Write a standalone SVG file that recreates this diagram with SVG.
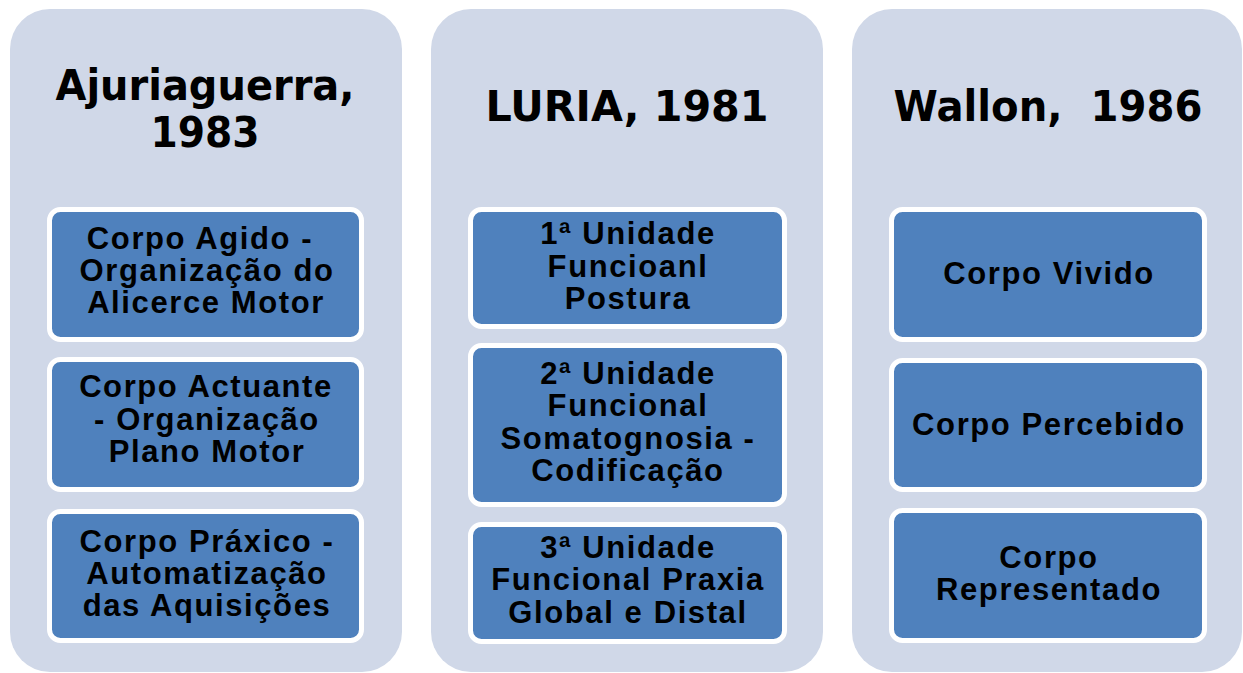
<svg xmlns="http://www.w3.org/2000/svg" width="1243" height="673" viewBox="0 0 1243 673">
<style>
.col{fill:#D0D8E8}
.box{fill:#4F81BD;stroke:#FFFFFF;stroke-width:5}
.title{font-family:"DejaVu Sans",Verdana,sans-serif;font-weight:bold;font-size:43px;fill:#000;text-anchor:middle}
.lbl{font-family:"Liberation Sans",Arial,sans-serif;font-weight:bold;font-size:31px;letter-spacing:1.6px;fill:#000;text-anchor:middle}
</style>
<rect width="1243" height="673" fill="#FFFFFF"/>
<g id="col-ajuriaguerra">
<rect class="col" x="10" y="9" width="392" height="663" rx="40"/>
<text class="title" x="205" y="100" textLength="299" lengthAdjust="spacingAndGlyphs">Ajuriaguerra,</text>
<text class="title" x="205" y="147" textLength="109" lengthAdjust="spacingAndGlyphs">1983</text>
</g>
<g id="col-luria">
<rect class="col" x="431" y="9" width="392" height="663" rx="40"/>
<text class="title" x="627" y="121" textLength="283" lengthAdjust="spacingAndGlyphs">LURIA, 1981</text>
</g>
<g id="col-wallon">
<rect class="col" x="852" y="9" width="390" height="663" rx="40"/>
<text class="title" x="1048" y="121" textLength="309" lengthAdjust="spacingAndGlyphs">Wallon,&#160; 1986</text>
</g>
<g id="a1">
<rect class="box" x="49.5" y="209.5" width="312" height="130" rx="11"/>
<text class="lbl" x="200" y="249">Corpo Agido -</text>
<text class="lbl" x="207" y="281">Organização do</text>
<text class="lbl" x="206" y="313">Alicerce Motor</text>
</g>
<g id="a2">
<rect class="box" x="49.5" y="359.5" width="312" height="130" rx="11"/>
<text class="lbl" x="206" y="397">Corpo Actuante</text>
<text class="lbl" x="207" y="430">- Organização</text>
<text class="lbl" x="207" y="462">Plano Motor</text>
</g>
<g id="a3">
<rect class="box" x="49.5" y="511.5" width="312" height="129" rx="11"/>
<text class="lbl" x="207" y="552">Corpo Práxico -</text>
<text class="lbl" x="207" y="584">Automatização</text>
<text class="lbl" x="207" y="616">das Aquisições</text>
</g>
<g id="l1">
<rect class="box" x="470.5" y="209.5" width="314" height="117" rx="11"/>
<text class="lbl" x="628" y="244">1ª Unidade</text>
<text class="lbl" x="628" y="277">Funcioanl</text>
<text class="lbl" x="628" y="309">Postura</text>
</g>
<g id="l2">
<rect class="box" x="470.5" y="345.5" width="314" height="159" rx="11"/>
<text class="lbl" x="628" y="384">2ª Unidade</text>
<text class="lbl" x="628" y="416">Funcional</text>
<text class="lbl" x="628" y="449">Somatognosia -</text>
<text class="lbl" x="628" y="481">Codificação</text>
</g>
<g id="l3">
<rect class="box" x="470.5" y="524.5" width="314" height="117" rx="11"/>
<text class="lbl" x="628" y="558">3ª Unidade</text>
<text class="lbl" x="628" y="590">Funcional Praxia</text>
<text class="lbl" x="628" y="623">Global e Distal</text>
</g>
<g id="w1">
<rect class="box" x="891.5" y="209.5" width="313" height="130" rx="11"/>
<text class="lbl" x="1049" y="284">Corpo Vivido</text>
</g>
<g id="w2">
<rect class="box" x="891.5" y="360.5" width="313" height="129" rx="11"/>
<text class="lbl" x="1049" y="435">Corpo Percebido</text>
</g>
<g id="w3">
<rect class="box" x="891.5" y="510.5" width="313" height="130" rx="11"/>
<text class="lbl" x="1049" y="568">Corpo</text>
<text class="lbl" x="1049" y="600">Representado</text>
</g>
<g id="connectors"></g>
</svg>
